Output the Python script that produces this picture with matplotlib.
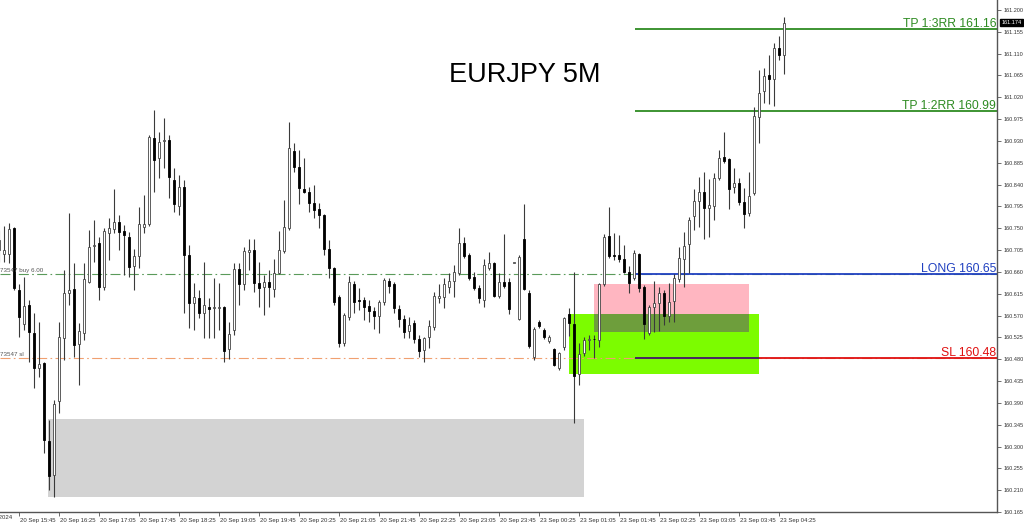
import matplotlib
matplotlib.use("Agg")
import matplotlib.pyplot as plt
from matplotlib.patches import Rectangle
from matplotlib.transforms import blended_transform_factory, ScaledTranslation

plt.rcParams['font.family'] = ['Liberation Sans', 'DejaVu Sans']

## data (EURJPY, 5 minute bars)
bar_idx = list(range(-1, 157))

opens = [160.705, 160.697, 160.697, 160.751, 160.623, 160.553, 160.592, 160.534, 160.462, 160.472,
         160.312, 160.242, 160.394, 160.524, 160.617, 160.625, 160.512, 160.534, 160.639, 160.714,
         160.720, 160.629, 160.740, 160.749, 160.763, 160.745, 160.732, 160.672, 160.693, 160.753,
         160.759, 160.936, 160.895, 160.930, 160.932, 160.850, 160.796, 160.835, 160.695, 160.596,
         160.606, 160.576, 160.588, 160.586, 160.586, 160.588, 160.501, 160.540, 160.666, 160.635,
         160.701, 160.705, 160.637, 160.629, 160.639, 160.625, 160.658, 160.703, 160.751, 160.909,
         160.876, 160.831, 160.825, 160.802, 160.790, 160.777, 160.707, 160.668, 160.609, 160.514,
         160.567, 160.635, 160.602, 160.602, 160.590, 160.580, 160.569, 160.598, 160.641, 160.635,
         160.584, 160.563, 160.538, 160.555, 160.522, 160.499, 160.526, 160.547, 160.606, 160.609,
         160.629, 160.641, 160.658, 160.720, 160.695, 160.650, 160.627, 160.602, 160.668, 160.679,
         160.611, 160.639, 160.639, 160.679, 160.563, 160.728, 160.617, 160.485, 160.557, 160.540,
         160.518, 160.501, 160.462, 160.505, 160.573, 160.553, 160.450, 160.493, 160.520, 160.522,
         160.520, 160.635, 160.734, 160.695, 160.695, 160.687, 160.660, 160.648, 160.697, 160.629,
         160.534, 160.588, 160.596, 160.617, 160.569, 160.600, 160.646, 160.687, 160.718, 160.775,
         160.806, 160.825, 160.792, 160.796, 160.854, 160.897, 160.893, 160.835, 160.843, 160.804,
         160.782, 160.823, 160.979, 161.033, 161.066, 161.058, 161.122, 161.107]

highs = [160.747, 160.755, 160.761, 160.753, 160.635, 160.650, 160.602, 160.576, 160.557, 160.475,
         160.355, 160.396, 160.557, 160.664, 160.782, 160.679, 160.555, 160.679, 160.747, 160.767,
         160.732, 160.751, 160.771, 160.831, 160.777, 160.757, 160.742, 160.707, 160.794, 160.819,
         160.942, 160.994, 160.949, 160.977, 160.942, 160.874, 160.860, 160.850, 160.716, 160.637,
         160.623, 160.681, 160.606, 160.648, 160.637, 160.590, 160.557, 160.679, 160.679, 160.712,
         160.728, 160.728, 160.681, 160.654, 160.664, 160.687, 160.745, 160.808, 160.969, 160.926,
         160.911, 160.895, 160.835, 160.839, 160.802, 160.779, 160.726, 160.670, 160.613, 160.576,
         160.652, 160.641, 160.627, 160.609, 160.602, 160.588, 160.602, 160.648, 160.648, 160.639,
         160.592, 160.571, 160.567, 160.561, 160.530, 160.526, 160.561, 160.619, 160.635, 160.648,
         160.658, 160.674, 160.751, 160.732, 160.699, 160.660, 160.633, 160.687, 160.701, 160.681,
         160.658, 160.738, 160.648, 160.679, 160.695, 160.800, 160.623, 160.547, 160.561, 160.545,
         160.530, 160.503, 160.495, 160.567, 160.586, 160.660, 160.514, 160.526, 160.530, 160.530,
         160.637, 160.738, 160.794, 160.740, 160.736, 160.716, 160.672, 160.705, 160.699, 160.633,
         160.592, 160.641, 160.629, 160.623, 160.637, 160.656, 160.712, 160.742, 160.773, 160.831,
         160.856, 160.866, 160.852, 160.864, 160.911, 160.949, 160.895, 160.874, 160.854, 160.833,
         160.866, 161.000, 161.076, 161.080, 161.107, 161.132, 161.146, 161.185]

lows = [160.681, 160.681, 160.679, 160.623, 160.526, 160.540, 160.475, 160.421, 160.444, 160.287,
        160.211, 160.196, 160.369, 160.479, 160.592, 160.485, 160.427, 160.520, 160.637, 160.681,
        160.602, 160.623, 160.685, 160.740, 160.705, 160.654, 160.650, 160.623, 160.668, 160.740,
        160.755, 160.825, 160.854, 160.874, 160.813, 160.784, 160.777, 160.576, 160.545, 160.540,
        160.565, 160.524, 160.524, 160.524, 160.540, 160.475, 160.481, 160.530, 160.592, 160.623,
        160.664, 160.619, 160.588, 160.571, 160.588, 160.609, 160.656, 160.699, 160.747, 160.866,
        160.800, 160.823, 160.784, 160.771, 160.751, 160.695, 160.648, 160.592, 160.505, 160.508,
        160.561, 160.576, 160.582, 160.561, 160.557, 160.543, 160.534, 160.592, 160.617, 160.576,
        160.547, 160.524, 160.524, 160.514, 160.485, 160.475, 160.503, 160.540, 160.596, 160.586,
        160.617, 160.609, 160.654, 160.689, 160.644, 160.623, 160.596, 160.588, 160.664, 160.609,
        160.606, 160.627, 160.573, 160.679, 160.561, 160.623, 160.503, 160.479, 160.545, 160.522,
        160.514, 160.466, 160.458, 160.499, 160.528, 160.349, 160.427, 160.487, 160.499, 160.483,
        160.505, 160.631, 160.689, 160.685, 160.681, 160.658, 160.617, 160.644, 160.619, 160.522,
        160.530, 160.536, 160.538, 160.551, 160.557, 160.557, 160.639, 160.629, 160.658, 160.747,
        160.753, 160.728, 160.732, 160.767, 160.850, 160.885, 160.790, 160.823, 160.798, 160.751,
        160.775, 160.819, 160.926, 161.008, 161.006, 161.002, 161.097, 161.068]

closes = [160.726, 160.705, 160.749, 160.627, 160.567, 160.590, 160.536, 160.462, 160.470, 160.314,
          160.240, 160.388, 160.526, 160.617, 160.623, 160.510, 160.538, 160.646, 160.712, 160.715,
          160.629, 160.745, 160.751, 160.763, 160.742, 160.736, 160.670, 160.693, 160.759, 160.759,
          160.938, 160.891, 160.928, 160.931, 160.856, 160.800, 160.835, 160.695, 160.596, 160.609,
          160.576, 160.592, 160.584, 160.587, 160.588, 160.497, 160.532, 160.666, 160.635, 160.703,
          160.705, 160.637, 160.627, 160.639, 160.629, 160.658, 160.705, 160.753, 160.916, 160.876,
          160.833, 160.825, 160.802, 160.788, 160.777, 160.707, 160.668, 160.598, 160.514, 160.571,
          160.639, 160.598, 160.600, 160.588, 160.580, 160.569, 160.598, 160.644, 160.631, 160.586,
          160.563, 160.536, 160.551, 160.522, 160.497, 160.524, 160.549, 160.611, 160.611, 160.635,
          160.641, 160.660, 160.720, 160.693, 160.648, 160.627, 160.606, 160.674, 160.679, 160.611,
          160.639, 160.631, 160.584, 160.679, 160.691, 160.625, 160.508, 160.543, 160.549, 160.526,
          160.526, 160.468, 160.493, 160.565, 160.555, 160.446, 160.491, 160.520, 160.522, 160.521,
          160.635, 160.732, 160.693, 160.693, 160.687, 160.660, 160.637, 160.699, 160.627, 160.553,
          160.588, 160.596, 160.617, 160.569, 160.598, 160.648, 160.689, 160.714, 160.767, 160.806,
          160.825, 160.792, 160.798, 160.854, 160.895, 160.889, 160.831, 160.843, 160.804, 160.780,
          160.817, 160.982, 161.029, 161.064, 161.058, 161.122, 161.107, 161.174]

# trade levels
tp3 = 161.161
tp2 = 160.992
entry = 160.656
sl = 160.483
last_price = 161.174

# zones: (x0, x1, price_low, price_high) in bar index / price
gray_zone = (8.8, 116.0, 160.196, 160.357)
pink_zone = (118.0, 149.0, 160.537, 160.635)
green_zone = (113.0, 151.0, 160.450, 160.574)
levels_from = 126.2

time_ticks = [3, 11, 19, 27, 35, 43, 51, 59, 67, 75, 83, 91, 99, 107, 115, 123, 131, 139, 147, 155]
time_labels = ["20 Sep 15:45", "20 Sep 16:25", "20 Sep 17:05", "20 Sep 17:45", "20 Sep 18:25",
               "20 Sep 19:05", "20 Sep 19:45", "20 Sep 20:25", "20 Sep 21:05", "20 Sep 21:45",
               "20 Sep 22:25", "20 Sep 23:05", "20 Sep 23:45", "23 Sep 00:25", "23 Sep 01:05",
               "23 Sep 01:45", "23 Sep 02:25", "23 Sep 03:05", "23 Sep 03:45", "23 Sep 04:25"]
price_ticks = [161.200, 161.155, 161.110, 161.065, 161.020, 160.975, 160.930, 160.885, 160.840,
               160.795, 160.750, 160.705, 160.660, 160.615, 160.570, 160.525, 160.480, 160.435,
               160.390, 160.345, 160.300, 160.255, 160.210, 160.165]

## figure
fig = plt.figure(figsize=(10.24, 5.27), dpi=100)
ax = fig.add_axes([0, 15 / 527, 997 / 1024, 512 / 527])
x_left, x_right = -0.8, 198.6
ax.set_xlim(x_left, x_right)
ax.set_ylim(160.1654, 161.2206)

# zones
def add_zone(z, color):
    ax.add_patch(Rectangle((z[0], z[2]), z[1] - z[0], z[3] - z[2], facecolor=color,
                           edgecolor='none', zorder=1))

add_zone(gray_zone, '#d3d3d3')
add_zone(green_zone, '#7cfc00')
add_zone(pink_zone, '#ffb6c1')
overlap = (max(pink_zone[0], green_zone[0]), min(pink_zone[1], green_zone[1]),
           max(pink_zone[2], green_zone[2]), min(pink_zone[3], green_zone[3]))
add_zone(overlap, '#6e9e3c')

# order lines across the whole chart
ax.axhline(entry, color='#5a9a5a', lw=0.8, ls=(0, (9, 3, 1.5, 3)), zorder=2)
ax.axhline(sl, color='#f0a070', lw=0.8, ls=(0, (9, 3, 1.5, 3)), zorder=2)

# trade levels
ax.hlines([tp3, tp2], levels_from, x_right, color='#2e8b22', lw=1.3, zorder=2)
ax.hlines(entry, levels_from, x_right, color='#2040c0', lw=1.3, zorder=2)
ax.hlines(sl, levels_from, x_right, color='#e01010', lw=1.3, zorder=2)
ax.hlines(sl, levels_from, green_zone[1], color='#3a2a6a', lw=1.3, zorder=2)

# candles
wick_col = '#3a3a3a'
ax.vlines(bar_idx, lows, highs, color=wick_col, lw=0.8, zorder=3)
bottoms = [min(o, c) for o, c in zip(opens, closes)]
heights = [max(abs(c - o), 0.0009) for o, c in zip(opens, closes)]
fills = ['white' if c >= o else 'black' for o, c in zip(opens, closes)]
edges = ['#444444' if c >= o else 'black' for o, c in zip(opens, closes)]
ax.bar(bar_idx, heights, width=0.5, bottom=bottoms, color=fills, edgecolor=edges,
       linewidth=0.6, zorder=4)

# level texts
lab_kw = dict(xycoords=blended_transform_factory(ax.transAxes, ax.transData),
              textcoords='offset points', ha='right', va='baseline', fontsize=8.8)
ax.annotate('TP 1:3RR 161.16', (0.999, tp3), xytext=(0, 1.5), color='#2e8b22', **lab_kw)
ax.annotate('TP 1:2RR 160.99', (0.999, tp2), xytext=(0, 1.5), color='#2e8b22', **lab_kw)
ax.annotate('LONG 160.65', (0.999, entry), xytext=(0, 1.5), color='#2040c0', **lab_kw)
ax.annotate('SL 160.48', (0.999, sl), xytext=(0, 1.5), color='#e01010', **lab_kw)

ax.text(x_left, entry + 0.002, '73547 buy 6.00', fontsize=4.5, color='#555555',
        ha='left', va='bottom', zorder=5)
ax.text(x_left, sl + 0.002, '73547 sl', fontsize=4.5, color='#555555',
        ha='left', va='bottom', zorder=5)

fig.text(524.5 / 1024, 1 - 75 / 527, 'EURJPY 5M', ha='center', va='center',
         fontsize=19.5, color='black')

# axes look (MT4 style frame: right + bottom only)
for s in ['left', 'top']:
    ax.spines[s].set_visible(False)
for s in ['right', 'bottom']:
    ax.spines[s].set_color('#555555')
    ax.spines[s].set_linewidth(1.0)

ax.set_xticks(time_ticks, time_labels)
ax.tick_params(axis='x', direction='out', length=3, width=0.6, colors='#555555',
               labelsize=4.3, labelcolor='#333333', pad=1.5)
shift = ScaledTranslation(1.5 / 100, 0, fig.dpi_scale_trans)
for lbl in ax.get_xticklabels():
    lbl.set_ha('left')
    lbl.set_transform(lbl.get_transform() + shift)
ax.text(1.7, -0.006, '20 Sep 2024', transform=blended_transform_factory(ax.transData, ax.transAxes),
        ha='right', va='top', fontsize=4.3, color='#333333', clip_on=False)

ax.yaxis.tick_right()
ax.set_yticks(price_ticks, [f'{p:.3f}' for p in price_ticks])
ax.tick_params(axis='y', direction='out', length=3, width=0.6, colors='#555555',
               labelsize=4.0, labelcolor='#333333', pad=1.5)

ax.annotate(f'{last_price:.3f}', (1, last_price),
            xycoords=blended_transform_factory(ax.transAxes, ax.transData),
            xytext=(3, 0), textcoords='offset points', ha='left', va='center',
            fontsize=4.0, color='white',
            bbox=dict(boxstyle='square,pad=0.2', fc='black', ec='black'))

fig.savefig('out.png', dpi=100, facecolor='white')
